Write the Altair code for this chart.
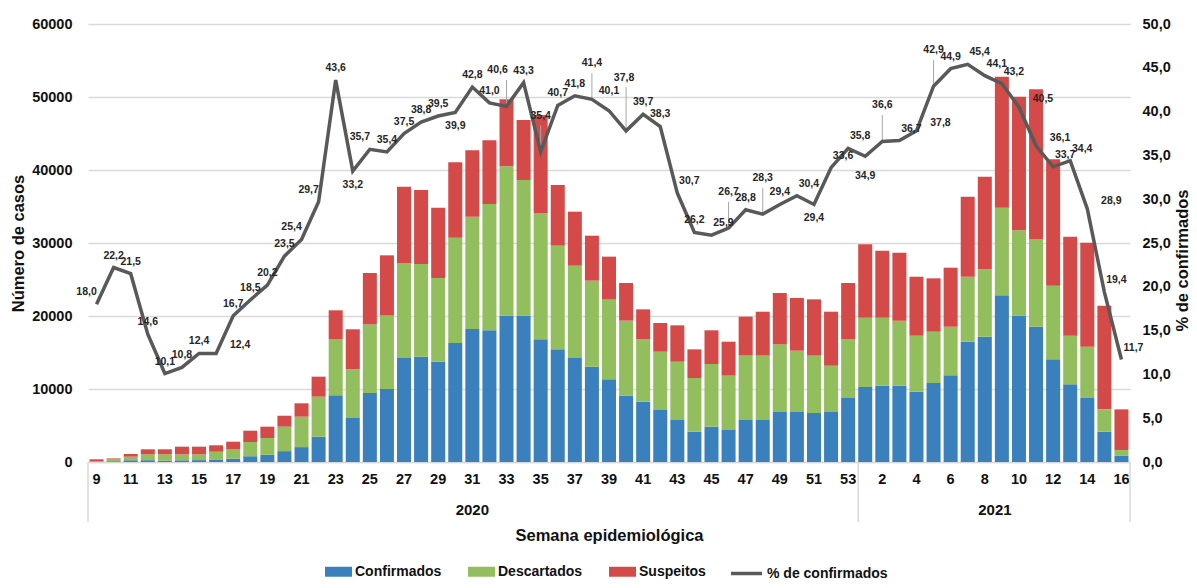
import altair as alt
import pandas as pd

# ---------------- data ----------------
weeks_2020 = list(range(9, 54))
weeks_2021 = list(range(1, 17))

confirmados_2020 = [70, 110, 240, 250, 180, 230, 260, 280, 460, 790, 980, 1490, 2040, 3470,
                    9130, 6030, 9450, 10000, 14250, 14430, 13740, 16300, 18220, 18040, 20040,
                    20040, 16800, 15430, 14250, 13060, 11320, 9090, 8260, 7210, 5840, 4160,
                    4840, 4470, 5840, 5840, 6850, 6850, 6710, 6850, 8770]
descartados_2020 = [60, 330, 490, 800, 870, 820, 790, 1130, 1320, 1950, 2310, 3350, 4170, 5480,
                    7720, 6670, 9410, 10050, 13010, 12690, 11470, 14430, 15380, 17300, 20460,
                    18590, 17310, 14200, 12640, 11780, 10960, 10270, 8540, 7900, 7900, 7350,
                    8580, 7360, 8730, 8730, 9270, 8400, 7860, 6340, 8030]
suspeitos_2020 = [240, 60, 370, 690, 690, 1050, 1050, 880, 1000, 1550, 1550, 1500, 1830, 2740,
                  3930, 5480, 7030, 8260, 10460, 10140, 9630, 10320, 9100, 8730, 9180,
                  8220, 13420, 8320, 7400, 6160, 5850, 5160, 4110, 3930, 4980, 3920,
                  4620, 4650, 5340, 6020, 7030, 7220, 7710, 7400, 7720]
pct_2020 = [18.0, 22.2, 21.5, 14.6, 10.1, 10.8, 12.4, 12.4, 16.7, 18.5, 20.2, 23.5, 25.4, 29.7,
            43.6, 33.2, 35.7, 35.4, 37.5, 38.8, 39.5, 39.9, 42.8, 41.0, 40.6,
            43.3, 35.4, 40.7, 41.8, 41.4, 40.1, 37.8, 39.7, 38.3, 30.7, 26.2,
            25.9, 26.7, 28.8, 28.3, 29.4, 30.4, 29.4, 33.6, 35.8]

confirmados_2021 = [10270, 10450, 10450, 9630, 10820, 11870, 16480, 17170, 22830, 20040,
                    18530, 14060, 10640, 8770, 4150, 840]
descartados_2021 = [9500, 9320, 8910, 7670, 7030, 6660, 8900, 9220, 12010, 11700,
                    12020, 10090, 6660, 7020, 3060, 800]
suspeitos_2021 = [10050, 9180, 9310, 8080, 7310, 8090, 10960, 12690, 17940, 18300,
                  20500, 17310, 13560, 14250, 14200, 5570]
pct_2021 = [34.9, 36.6, 36.7, 37.8, 42.9, 44.9, 45.4, 44.1, 43.2, 40.5,
            36.1, 33.7, 34.4, 28.9, 19.4, 11.7]

series_names = ["Confirmados", "Descartados", "Suspeitos"]
series_colors = ["#3A80BD", "#93BE5E", "#D44A48"]
line_name = "% de confirmados"
line_color = "#595959"
years = ["2020", "2021"]
left_ticks = [0, 10000, 20000, 30000, 40000, 50000, 60000]
right_ticks = [0, 5, 10, 15, 20, 25, 30, 35, 40, 45, 50]

# label placement (style only)
label_place = {
    "al": ["2020-09", "2020-21", "2020-22", "2020-25"],
    "am": ["2020-39"],
    "b": ["2020-24", "2020-30", "2020-51"],
    "bb": ["2021-01"],
    "ar": ["2020-43", "2020-45", "2020-50", "2020-52", "2020-53", "2021-03", "2021-07",
           "2021-08", "2021-09", "2021-12", "2021-13", "2021-15", "2021-16"],
    "r": ["2020-16", "2021-04", "2021-10", "2021-11", "2021-14"],
    "h": ["2020-35", "2020-38", "2020-46", "2020-48", "2021-02", "2021-05"],
    "hl": ["2020-33"],
    "hh": ["2020-40"],
}
place_offsets = {"a": (0, -12), "am": (0, -20), "b": (0, 14), "bb": (0, 20), "al": (-10, -12),
                 "ar": (12, -12), "r": (24, -8), "h": (0, -36), "hl": (-9, -36),
                 "hh": (-2, -53)}
leader_len = {"h": 3.0, "hl": 3.0, "hh": 5.0}  # in % units

# ---------------- tables ----------------
keys, week_rows, bar_rows = [], [], []
groups = [
    ("2020", weeks_2020, confirmados_2020, descartados_2020, suspeitos_2020, pct_2020),
    ("2021", weeks_2021, confirmados_2021, descartados_2021, suspeitos_2021, pct_2021),
]
year_keys = {}
i = 0
for year, weeks, conf, desc, susp, pct in groups:
    start = i
    for j, w in enumerate(weeks):
        tick = str(w) if i % 2 == 0 else ""
        key = f"{year}|{w:02d}|{tick}"
        keys.append(key)
        ident = f"{year}-{w:02d}"
        pos = "a"
        for p, lst in label_place.items():
            if ident in lst:
                pos = p
        week_rows.append({"key": key, "pct": pct[j],
                          "lbl": f"{pct[j]:.1f}".replace(".", ","),
                          "pos": pos, "lname": line_name,
                          "lead": leader_len.get(pos, 0.0)})
        for k, (name, vals) in enumerate(zip(series_names, (conf, desc, susp))):
            bar_rows.append({"key": key, "series": name, "value": vals[j], "order": k})
        i += 1
    year_keys[year] = (start, i - 1)

bars_df = pd.DataFrame(bar_rows)
week_df = pd.DataFrame(week_rows)

# year label anchors
y2020_key = keys[(year_keys["2020"][0] + year_keys["2020"][1]) // 2]
y2021_key = keys[(year_keys["2021"][0] + year_keys["2021"][1] + 1) // 2]
year_df_a = pd.DataFrame({"key": [y2020_key], "year": [years[0]]})
year_df_b = pd.DataFrame({"key": [y2021_key], "year": [years[1]]})
sep_df = pd.DataFrame({"key": [keys[year_keys["2021"][0]]]})

W, H = 1042, 438
FONT = "Liberation Sans"
TXT = "#111111"

x_axis = alt.Axis(labelExpr="split(datum.value, '|')[2]", labelAngle=0, ticks=False, tickSize=0,
                  domainColor="#D9D9D9", domainWidth=1.5, labelPadding=10, labelFontSize=14.5,
                  labelFontWeight="bold", labelColor=TXT, labelOverlap=False,
                  title="Semana epidemiológica", titleFontSize=16.5, titleFontWeight="bold",
                  titleColor=TXT, titleX=W / 2, titleY=73, titleAlign="center",
                  titleBaseline="middle")
x_scale = alt.Scale(paddingInner=0.18, paddingOuter=0.09)


def xenc(**kw):
    return alt.X("key:N", sort=keys, scale=x_scale, axis=x_axis, **kw)


bars = alt.Chart(bars_df).mark_bar().encode(
    x=xenc(),
    y=alt.Y("value:Q", stack="zero", scale=alt.Scale(domain=[0, 60000], nice=False),
            axis=alt.Axis(values=left_ticks, format="d", grid=True, gridColor="#D9D9D9",
                          gridWidth=1.5, domain=False, ticks=False, tickSize=0, labelPadding=16,
                          labelFontSize=14.5, labelFontWeight="bold", labelColor=TXT,
                          title="Número de casos", titleFontSize=16.5, titleFontWeight="bold",
                          titleColor=TXT, titleAngle=270, titleX=-70, titleY=219,
                          titleAlign="center", titleBaseline="middle")),
    color=alt.Color("series:N", scale=alt.Scale(domain=series_names, range=series_colors),
                    legend=alt.Legend(orient="none", legendX=237, legendY=534, direction="horizontal",
                                      title=None, symbolType="M-1,-0.37H1V0.37H-1Z",
                                      symbolSize=729, symbolStrokeWidth=0, labelFontSize=14,
                                      labelFontWeight="bold", labelColor=TXT, labelOffset=3,
                                      columnPadding=26, padding=0)),
    order=alt.Order("order:Q"),
)

y_right = alt.Y("pct:Q", scale=alt.Scale(domain=[0, 50], nice=False),
                axis=alt.Axis(orient="right", values=right_ticks,
                              labelExpr="replace(format(datum.value, '.1f'), '.', ',')",
                              grid=False, domain=False, ticks=False, tickSize=0, labelPadding=12,
                              labelFontSize=14.5, labelFontWeight="bold", labelColor=TXT,
                              title=line_name, titleFontSize=16.5, titleFontWeight="bold",
                              titleColor=TXT, titleAngle=270, titleX=52, titleY=236,
                              titleAlign="center", titleBaseline="middle"))

line = alt.Chart(week_df).mark_line(strokeWidth=3.5).encode(
    x=xenc(),
    y=y_right,
    stroke=alt.Stroke("lname:N", scale=alt.Scale(domain=[line_name], range=[line_color]),
                      legend=alt.Legend(orient="none", legendX=641, legendY=532, title=None,
                                        symbolType="stroke", symbolSize=961,
                                        symbolStrokeWidth=3.5, labelFontSize=14,
                                        labelFontWeight="bold", labelColor=TXT, labelOffset=3,
                                        padding=0)),
)

leaders = alt.Chart(week_df).transform_filter(alt.datum.lead > 0).transform_calculate(
    top="datum.pct + datum.lead"
).mark_rule(color="#A6A6A6", strokeWidth=1).encode(
    x=xenc(), y=y_right, y2="top:Q")

label_layers = []
for p, (dx, dy) in place_offsets.items():
    label_layers.append(
        alt.Chart(week_df).transform_filter(alt.datum.pos == p)
        .mark_text(dx=dx, dy=dy, fontSize=10.5, fontWeight="bold", color="#262626", font=FONT)
        .encode(x=xenc(), y=y_right, text="lbl:N")
    )

right_layer = alt.layer(leaders, line, *label_layers)

seps_mid = alt.Chart(sep_df).mark_rule(color="#D9D9D9", strokeWidth=1.5).encode(
    x=xenc(bandPosition=0), y=alt.value(H), y2=alt.value(H + 60))
seps_edges = alt.Chart(sep_df).mark_rule(color="#D9D9D9", strokeWidth=1.5).encode(
    x=alt.value(0), y=alt.value(H), y2=alt.value(H + 60))
seps_right = alt.Chart(sep_df).mark_rule(color="#D9D9D9", strokeWidth=1.5).encode(
    x=alt.value(W), y=alt.value(H), y2=alt.value(H + 60))

year_a = alt.Chart(year_df_a).mark_text(fontSize=15, fontWeight="bold", color=TXT, font=FONT,
                                        baseline="middle").encode(
    x=xenc(), y=alt.value(H + 48), text="year:N")
year_b = alt.Chart(year_df_b).mark_text(fontSize=15, fontWeight="bold", color=TXT, font=FONT,
                                        baseline="middle").encode(
    x=xenc(bandPosition=0), y=alt.value(H + 48), text="year:N")

chart = alt.layer(bars, right_layer, seps_mid, seps_edges, seps_right, year_a, year_b).resolve_scale(
    y="independent", color="independent"
).properties(
    width=W, height=H,
    autosize=alt.AutoSizeParams(type="none"),
    padding={"left": 80, "top": 16, "right": 59, "bottom": 118},
).configure(font=FONT).configure_view(stroke=None)

chart.save("out.html", embed_options={"renderer": "svg", "actions": False})
